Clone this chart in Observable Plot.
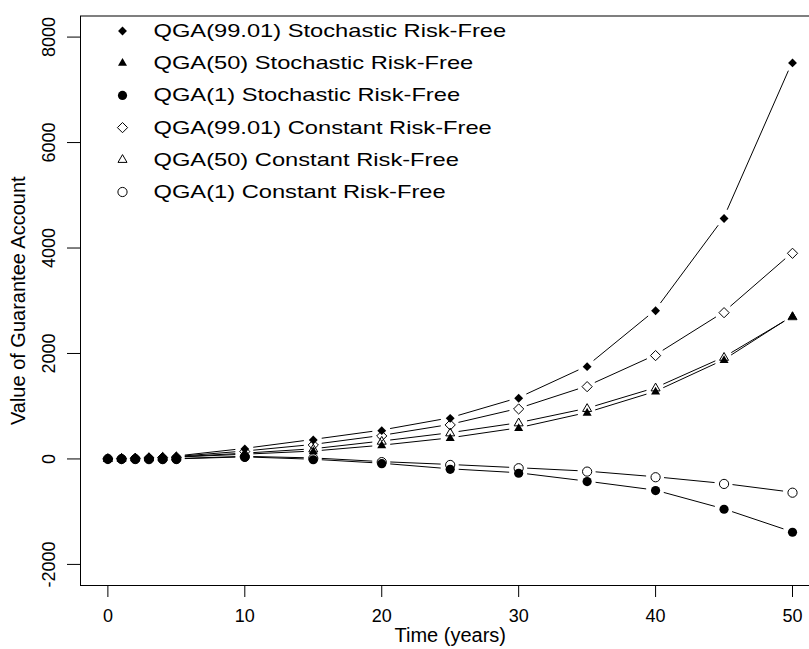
<!DOCTYPE html>
<html><head><meta charset="utf-8">
<script src="https://cdn.jsdelivr.net/npm/d3@7"></script>
<script src="https://cdn.jsdelivr.net/npm/@observablehq/plot@0.6"></script>
<style>
html,body{margin:0;padding:0;background:#fff;overflow:hidden}
#chart{width:809px;height:649px;overflow:hidden}
</style>
</head><body><div id="chart"></div>
<script>
// ---- data ----
const years   = [0, 1, 2, 3, 4, 5, 10, 15, 20, 25, 30, 35, 40, 45, 50];
const stoch99 = [0, 8, 16, 25, 35, 45, 190, 360, 537, 770, 1150, 1750, 2810, 4560, 7510];
const stoch50 = [0, 5, 10, 15, 20, 25, 80, 140, 250, 390, 580, 870, 1270, 1870, 2700];
const stoch1  = [0, -3, -5, -7, -8, -8, 30, -15, -90, -196, -271, -430, -600, -954, -1390];
const const99 = [0, 6, 13, 20, 28, 36, 140, 265, 436, 645, 948, 1371, 1960, 2774, 3900];
const const50 = [0, 5, 11, 16, 22, 28, 100, 183, 329, 487, 677, 950, 1340, 1920, 2690];
const const1  = [0, -2, -3, -4, -4, -3, 40, 10, -60, -114, -176, -240, -347, -474, -640];

const seriesNames = [
  "QGA(99.01) Stochastic Risk-Free",
  "QGA(50) Stochastic Risk-Free",
  "QGA(1) Stochastic Risk-Free",
  "QGA(99.01) Constant Risk-Free",
  "QGA(50) Constant Risk-Free",
  "QGA(1) Constant Risk-Free"
];
const seriesValues = [stoch99, stoch50, stoch1, const99, const50, const1];
const seriesSymbols = ["diamond2", "triangle2", "circle", "diamond2", "triangle2", "circle"];
const seriesFilled = [true, true, true, false, false, false];
const seriesSize = [4, 4.3, 4.6, 4.6, 4.3, 4.6];

const xTicks = [0, 10, 20, 30, 40, 50];
const yTicks = [-2000, 0, 2000, 4000, 6000, 8000];
const xTitle = "Time (years)";
const yTitle = "Value of Guarantee Account";

// ---- tables built from the arrays ----
const points = [];
const segments = [];
seriesValues.forEach((vals, s) => {
  vals.forEach((v, i) => {
    points.push({s, t: years[i], v});
    if (i > 0) segments.push({s, t1: years[i - 1], v1: vals[i - 1], t2: years[i], v2: v});
  });
});

// R type="b": lines stop short of the points
const GAP = 9;
function gapRender(index, scales, values, dimensions, context, next) {
  const g = d3.create("svg:g");
  const X1 = values.x1, Y1 = values.y1, X2 = values.x2, Y2 = values.y2;
  for (const i of index) {
    const ax = X1 ? X1[i] : scales.x(segments[i].t1);
    const ay = Y1 ? Y1[i] : scales.y(segments[i].v1);
    const bx = X2 ? X2[i] : scales.x(segments[i].t2);
    const by = Y2 ? Y2[i] : scales.y(segments[i].v2);
    const dx = bx - ax, dy = by - ay, L = Math.hypot(dx, dy);
    if (L <= 2 * GAP) continue;
    const ux = dx / L, uy = dy / L;
    g.append("line")
      .attr("x1", ax + ux * GAP).attr("y1", ay + uy * GAP)
      .attr("x2", bx - ux * GAP).attr("y2", by - uy * GAP)
      .attr("stroke", "black").attr("stroke-width", 1);
  }
  return g.node();
}

const FONT = "'Liberation Sans', Arial, Helvetica, sans-serif";
const FS = 18;
const FS_TITLE = 20;
const FS_LEG = 18.5;
const LEG_STRETCH = 1.28;

const marks = [
  Plot.frame({stroke: "black", strokeWidth: 1}),
  Plot.axisX({ticks: xTicks, tickSize: 12, tickPadding: 12, fontSize: FS, label: null, tickFormat: d => String(d)}),
  Plot.axisY({ticks: yTicks, tickSize: 13, tickFormat: () => "", label: null}),
  Plot.text(yTicks, {y: d => d, text: d => String(d), frameAnchor: "left", dx: -31, rotate: -90,
    textAnchor: "middle", lineAnchor: "middle", fontSize: FS, fill: "black"}),
  Plot.text([xTitle], {frameAnchor: "bottom", dy: 50, fontSize: FS_TITLE, textAnchor: "middle", lineAnchor: "middle", fill: "black"}),
  Plot.text([yTitle], {frameAnchor: "left", dx: -62, rotate: -90, fontSize: FS_TITLE, textAnchor: "middle", lineAnchor: "middle", fill: "black"}),
  Plot.link(segments, {x1: "t1", y1: "v1", x2: "t2", y2: "v2", stroke: "black", render: gapRender})
];

seriesNames.forEach((name, s) => {
  marks.push(Plot.dot(points.filter(p => p.s === s), {
    x: "t", y: "v", symbol: seriesSymbols[s], r: seriesSize[s],
    fill: seriesFilled[s] ? "black" : "none",
    stroke: "black", strokeWidth: seriesFilled[s] ? 0 : 1
  }));
});

// legend (inside top-left of plot region, no box)
seriesNames.forEach((name, s) => {
  marks.push(Plot.dot([name], {
    frameAnchor: "top-left", dx: 42, dy: 15 + s * 32.2,
    symbol: seriesSymbols[s], r: seriesSize[s],
    fill: seriesFilled[s] ? "black" : "none",
    stroke: "black", strokeWidth: seriesFilled[s] ? 0 : 1
  }));
  marks.push(Plot.text([name], {
    frameAnchor: "top-left", dx: 73, dy: 15 + s * 32.2,
    text: d => d, textAnchor: "start", lineAnchor: "middle", fontSize: FS_LEG, fill: "black"
  }));
});

const chart = Plot.plot({
  width: 809,
  height: 649,
  marginLeft: 80,
  marginRight: -10.4,
  marginTop: 15.5,
  marginBottom: 64,
  x: {domain: [-2, 52]},
  y: {domain: [-2400, 8400]},
  style: {fontFamily: FONT, fontSize: FS + "px", background: "white", color: "black", overflow: "hidden"},
  marks
});
document.getElementById("chart").appendChild(chart);

// widen legend glyphs horizontally, as in the reference
chart.querySelectorAll("text").forEach(t => {
  if (!seriesNames.includes(t.textContent)) return;
  const w = t.getComputedTextLength();
  if (w > 0) {
    t.setAttribute("textLength", w * LEG_STRETCH);
    t.setAttribute("lengthAdjust", "spacingAndGlyphs");
  }
});
</script>
</body></html>
